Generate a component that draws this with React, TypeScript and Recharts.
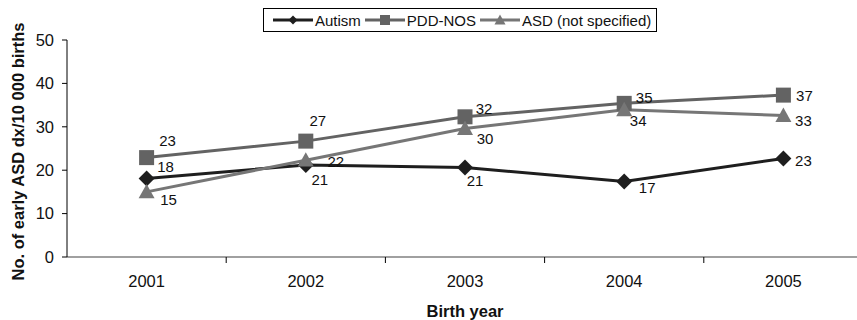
import React from "react";
import { LineChart, Line, XAxis, YAxis, Legend, LabelList, Label } from "recharts";

const years = [2001, 2002, 2003, 2004, 2005];
const autism = [18.1, 21.2, 20.6, 17.4, 22.7];
const pddNos = [22.9, 26.7, 32.3, 35.4, 37.3];
const asdNs = [15.0, 22.3, 29.6, 33.9, 32.6];
const yTicks = [0, 10, 20, 30, 40, 50];
const seriesNames = ["Autism", "PDD-NOS", "ASD (not specified)"];

const data = years.map((year, i) => ({
  year,
  autism: autism[i],
  pdd: pddNos[i],
  asd: asdNs[i],
}));

const xTicks = years.flatMap((y, i) => (i < years.length - 1 ? [y, y + 0.5] : [y]));

const FONT = "'Liberation Sans', Arial, Helvetica, sans-serif";
const C_AUT = "#1e1e1e";
const C_PDD = "#636363";
const C_ASD = "#767676";

// label offsets (dx, dy) relative to each point
const offAut = [[19, -12], [14, 15], [10, 13], [23, 6], [20, 2]];
const offPdd = [[21, -17], [12, -21], [19, -8], [20, -6], [21, 0]];
const offAsd = [[22, 8], [30, 1], [20, 10], [14, 11], [20, 5]];

const Diamond = ({ cx, cy, r, fill }: any) => (
  <path d={`M${cx},${cy - r} L${cx + r},${cy} L${cx},${cy + r} L${cx - r},${cy} Z`} fill={fill} />
);
const Square = ({ cx, cy, r, fill }: any) => (
  <rect x={cx - r} y={cy - r} width={2 * r} height={2 * r} fill={fill} />
);
const Triangle = ({ cx, cy, r, fill }: any) => (
  <path d={`M${cx},${cy - r} L${cx + r},${cy + r * 0.8} L${cx - r},${cy + r * 0.8} Z`} fill={fill} />
);

const makeLabel = (offs: number[][]) => (p: any) => {
  const o = offs[p.index] || [0, 0];
  return (
    <text
      key={`l${p.index}`}
      x={p.x + o[0]}
      y={p.y + o[1]}
      textAnchor="middle"
      dominantBaseline="central"
      fontFamily={FONT}
      fontSize={15}
      fill="#111"
    >
      {Math.round(Number(p.value))}
    </text>
  );
};

const XTick = (p: any) => {
  const v = p.payload.value;
  if (Number.isInteger(v)) {
    return (
      <text x={p.x} y={p.y + 24} textAnchor="middle" dominantBaseline="central" fontFamily={FONT} fontSize={16.5} fill="#111">
        {v}
      </text>
    );
  }
  return <line x1={p.x} y1={p.y} x2={p.x} y2={p.y + 6} stroke="#000" strokeWidth={1} />;
};

const legendItems = [
  { name: seriesNames[0], color: C_AUT, Shape: Diamond, r: 4.5 },
  { name: seriesNames[1], color: C_PDD, Shape: Square, r: 5 },
  { name: seriesNames[2], color: C_ASD, Shape: Triangle, r: 5.5 },
];

const renderLegend = () => (
  <div
    style={{
      border: "1px solid #000",
      height: 24,
      boxSizing: "border-box",
      display: "flex",
      alignItems: "center",
      fontFamily: FONT,
      fontSize: 15,
      color: "#111",
      paddingLeft: 9,
      background: "#fff",
    }}
  >
    {legendItems.map((it) => (
      <div key={it.name} style={{ display: "flex", alignItems: "center", marginRight: 4 }}>
        <svg width={42} height={14} style={{ display: "block" }}>
          <line x1={0} y1={7} x2={40} y2={7} stroke={it.color} strokeWidth={3} />
          <it.Shape cx={20} cy={7} r={it.r} fill={it.color} />
        </svg>
        <span style={{ whiteSpace: "nowrap" }}>{it.name}</span>
      </div>
    ))}
  </div>
);

export default function App() {
  return (
    <div style={{ position: "absolute", left: 0, top: 0, width: 857, height: 320, overflow: "hidden", background: "#fff" }}>
      <LineChart width={870} height={320} data={data} margin={{ top: 40, right: 7, bottom: 0, left: 0 }}>
        <Legend
          content={renderLegend}
          layout="horizontal"
          verticalAlign="middle"
          align="center"
          wrapperStyle={{ position: "absolute", top: 8, left: 263, width: 394, height: 24 }}
        />
        <XAxis
          dataKey="year"
          type="number"
          domain={[2000.5, 2005.5]}
          ticks={xTicks}
          interval={0}
          height={63}
          tick={<XTick />}
          tickLine={false}
          tickSize={0}
          tickMargin={0}
          axisLine={{ stroke: "#808080", strokeWidth: 1.5 }}
        >
          <Label
            content={(p: any) => {
              const vb = p.viewBox;
              return (
                <text x={vb.x + vb.width / 2} y={vb.y + 54} textAnchor="middle" dominantBaseline="central" fontFamily={FONT} fontSize={16.5} fontWeight="bold" fill="#111">
                  Birth year
                </text>
              );
            }}
          />
        </XAxis>
        <YAxis
          width={67}
          domain={[0, 50]}
          ticks={yTicks}
          interval={0}
          tickSize={5}
          tickMargin={8}
          tickLine={{ stroke: "#000" }}
          axisLine={{ stroke: "#000" }}
          tick={{ fontFamily: FONT, fontSize: 16.5, fill: "#111" }}
        >
          <Label
            content={(p: any) => {
              const vb = p.viewBox;
              const cx = vb.x + 18;
              const cy = vb.y + vb.height / 2 + 3;
              return (
                <text x={cx} y={cy} transform={`rotate(-90 ${cx} ${cy})`} textAnchor="middle" dominantBaseline="central" fontFamily={FONT} fontSize={16.5} fontWeight="bold" fill="#111">
                  No. of early ASD dx/10 000 births
                </text>
              );
            }}
          />
        </YAxis>
        <Line
          dataKey="autism"
          name={seriesNames[0]}
          stroke={C_AUT}
          strokeWidth={3}
          isAnimationActive={false}
          dot={(p: any) => <Diamond key={`a${p.index}`} cx={p.cx} cy={p.cy} r={8} fill={C_AUT} />}
        >
          <LabelList dataKey="autism" content={makeLabel(offAut)} />
        </Line>
        <Line
          dataKey="pdd"
          name={seriesNames[1]}
          stroke={C_PDD}
          strokeWidth={3}
          isAnimationActive={false}
          dot={(p: any) => <Square key={`p${p.index}`} cx={p.cx} cy={p.cy} r={7.5} fill={C_PDD} />}
        >
          <LabelList dataKey="pdd" content={makeLabel(offPdd)} />
        </Line>
        <Line
          dataKey="asd"
          name={seriesNames[2]}
          stroke={C_ASD}
          strokeWidth={3}
          isAnimationActive={false}
          dot={(p: any) => <Triangle key={`s${p.index}`} cx={p.cx} cy={p.cy} r={8} fill={C_ASD} />}
        >
          <LabelList dataKey="asd" content={makeLabel(offAsd)} />
        </Line>
      </LineChart>
    </div>
  );
}
